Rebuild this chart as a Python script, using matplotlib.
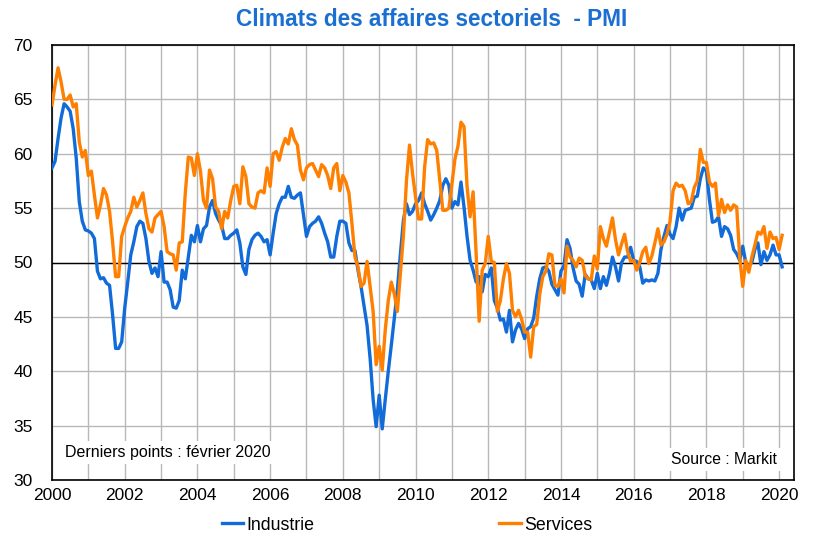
import numpy as np
import matplotlib
matplotlib.use("Agg")
import matplotlib.pyplot as plt

plt.rcParams['font.family'] = ['Liberation Sans', 'DejaVu Sans']

# monthly values, Jan 2000 -> Feb 2020
industrie = [
    58.7, 59.3, 61.4, 63.3, 64.6, 64.3, 63.9, 62.3, 59.6, 55.6, 53.8, 53.0,  # 2000
    52.9, 52.7, 52.2, 49.2, 48.5, 48.6, 48.1, 47.9, 45.2, 42.1, 42.1, 42.7,  # 2001
    45.8, 48.2, 50.7, 51.9, 53.3, 53.8, 53.6, 52.2, 50.1, 49.0, 49.5, 48.7,  # 2002
    51.0, 48.2, 48.2, 47.5, 45.9, 45.8, 46.5, 49.3, 48.5, 50.5, 52.5, 51.9,  # 2003
    53.4, 51.9, 53.1, 53.4, 55.1, 55.7, 54.5, 53.9, 53.4, 52.2, 52.2, 52.5,  # 2004
    52.7, 53.0, 51.8, 49.6, 48.9, 51.2, 52.1, 52.5, 52.7, 52.4, 51.9, 52.1,  # 2005
    50.7, 52.7, 54.5, 55.4, 56.0, 56.0, 57.0, 56.0, 55.9, 56.2, 56.4, 54.4,  # 2006
    52.4, 53.3, 53.6, 53.8, 54.2, 53.6, 52.7, 51.9, 50.5, 50.5, 52.4, 53.8,  # 2007
    53.8, 53.6, 51.8, 51.1, 51.1, 49.3, 47.8, 46.0, 44.2, 41.2, 37.4, 34.9,  # 2008
    37.8, 34.7, 37.4, 40.0, 42.4, 44.9, 47.5, 50.8, 53.9, 55.4, 54.4, 54.7,  # 2009
    55.4, 55.7, 56.4, 55.4, 54.7, 53.9, 54.4, 55.0, 55.7, 57.1, 57.7, 57.1,  # 2010
    55.0, 55.6, 55.3, 57.4, 55.1, 52.4, 50.2, 49.3, 48.2, 48.7, 47.3, 48.9,  # 2011
    48.7, 49.5, 46.5, 45.8, 44.7, 44.8, 43.6, 45.6, 42.7, 43.8, 44.4, 43.9,  # 2012
    43.0, 43.9, 44.1, 44.9, 46.9, 48.5, 49.5, 49.6, 49.2, 48.0, 47.5, 47.0,  # 2013
    49.2, 49.7, 52.1, 51.3, 49.5, 48.3, 48.0, 46.9, 48.9, 48.5, 48.4, 47.6,  # 2014
    49.0, 47.6, 48.7, 47.9, 49.0, 50.5, 49.6, 48.3, 50.0, 50.5, 50.5, 51.4,  # 2015
    50.2, 50.1, 49.6, 48.1, 48.4, 48.3, 48.4, 48.3, 49.0, 51.2, 52.4, 53.4,  # 2016
    52.6, 52.2, 53.3, 55.0, 53.9, 54.8, 54.9, 55.0, 56.0, 56.1, 57.7, 58.7,  # 2017
    58.4, 55.8, 53.7, 53.8, 54.2, 52.4, 53.3, 53.1, 52.5, 51.2, 50.8, 50.2,  # 2018
    51.5, 50.0, 49.7, 50.0, 51.2, 51.8, 49.8, 51.0, 50.2, 50.7, 51.6, 50.7,  # 2019
    50.7, 49.6,                                                              # 2020
]

services = [
    64.5, 66.3, 67.9, 66.6, 65.0, 65.0, 65.4, 64.3, 64.6, 61.1, 59.7, 60.3,  # 2000
    58.0, 58.4, 56.2, 54.1, 55.3, 56.8, 56.2, 54.7, 51.9, 48.7, 48.7, 52.4,  # 2001
    53.3, 54.1, 54.7, 56.0, 55.1, 55.7, 56.4, 54.5, 53.1, 52.8, 54.1, 54.4,  # 2002
    54.7, 53.3, 51.0, 50.8, 50.7, 49.3, 51.8, 51.9, 56.4, 59.7, 59.6, 58.0,  # 2003
    60.0, 58.4, 55.7, 55.0, 58.5, 57.7, 55.1, 54.7, 53.1, 54.7, 54.1, 55.7,  # 2004
    57.0, 57.1, 55.4, 58.8, 57.9, 55.4, 55.1, 55.0, 56.4, 56.6, 56.4, 58.7,  # 2005
    57.0, 60.0, 60.2, 59.4, 60.6, 61.4, 60.9, 62.3, 61.3, 60.8, 58.5, 57.6,  # 2006
    58.7, 59.0, 59.1, 58.5, 57.9, 59.0, 58.7, 58.0, 56.8, 58.7, 59.1, 56.6,  # 2007
    58.0, 57.4, 56.4, 53.6, 50.5, 49.6, 47.8, 48.1, 50.1, 47.8, 45.5, 40.6,  # 2008
    42.3, 40.1, 43.8, 46.5, 48.2, 47.1, 45.5, 49.0, 52.5, 57.5, 60.8, 58.2,  # 2009
    56.0, 54.0, 54.0, 58.8, 61.3, 60.9, 61.0, 60.3, 57.5, 54.8, 54.8, 55.0,  # 2010
    57.2, 59.5, 60.7, 62.9, 62.5, 57.0, 54.2, 56.5, 50.8, 44.6, 49.3, 49.9,  # 2011
    52.4, 50.1, 50.0, 45.5, 46.5, 48.5, 49.9, 49.0, 45.6, 45.0, 45.6, 44.8,  # 2012
    43.6, 43.6, 41.3, 44.1, 44.3, 47.1, 48.7, 49.2, 50.8, 50.7, 47.9, 47.8,  # 2013
    48.5, 47.2, 51.5, 50.5, 50.2, 49.6, 50.4, 50.2, 48.8, 48.5, 48.4, 50.6,  # 2014
    49.4, 53.3, 52.2, 51.5, 52.8, 54.1, 52.1, 50.7, 51.7, 52.6, 51.0, 50.1,  # 2015
    50.2, 49.3, 50.0, 51.0, 51.4, 49.9, 50.6, 51.8, 53.1, 51.6, 51.9, 52.6,  # 2016
    53.8, 56.6, 57.3, 57.0, 57.1, 56.6, 55.4, 55.6, 56.9, 57.5, 60.4, 59.2,  # 2017
    59.2, 57.4, 57.0, 57.3, 54.3, 55.8, 54.6, 55.3, 54.8, 55.3, 55.1, 50.5,  # 2018
    47.8, 50.2, 49.1, 50.5, 51.6, 52.8, 52.6, 53.3, 51.3, 52.8, 52.2, 52.3,  # 2019
    51.2, 52.5,                                                              # 2020
]

dates = 2000 + np.arange(len(industrie)) / 12.0

BLUE = '#116BD8'
ORANGE = '#FF7F00'

fig = plt.figure(figsize=(8.22, 5.40), dpi=100)
ax = fig.add_axes([52/822, 1-480/540, (794-52)/822, (480-45)/540])

ax.set_xlim(2000, 2020.41)
ax.set_ylim(30, 70)
ax.set_xticks(np.arange(2000, 2021, 2))
ax.set_xticks(np.arange(2000, 2021, 1), minor=True)
ax.set_yticks(np.arange(30, 71, 5))
ax.grid(True, which='both', color='#b8b8b8', lw=1.0)
ax.tick_params(which='both', length=0, labelsize=12.5)
ax.tick_params(axis='y', pad=14)
ax.tick_params(axis='x', pad=6)
ax.set_axisbelow(True)
for s in ax.spines.values():
    s.set_color('black')
    s.set_linewidth(1.2)

ax.axhline(50, color='black', lw=1.0, zorder=2)

ax.plot(dates, industrie, color=BLUE, lw=2.4, label='Industrie', zorder=3)
ax.plot(dates, services, color=ORANGE, lw=2.4, label='Services', zorder=4)

ax.text(2000.35, 32.5, 'Derniers points : février 2020', fontsize=11.5,
        va='center', ha='left', zorder=5,
        bbox=dict(facecolor='white', edgecolor='none', pad=3))
ax.text(2019.95, 31.9, 'Source : Markit', fontsize=11.3,
        va='center', ha='right', zorder=5,
        bbox=dict(facecolor='white', edgecolor='none', pad=3))

fig.text(432/822, 1-20/540, 'Climats des affaires sectoriels  - PMI',
         color='#1A6FD1', fontsize=16.3, fontweight='bold',
         ha='center', va='center')

fig.legend(loc='center', bbox_to_anchor=(407/822, 1-525/540), ncol=2,
           frameon=False, fontsize=12.8, handlelength=1.2, handletextpad=0.2,
           columnspacing=10.4)

fig.savefig('out.png', dpi=100)
